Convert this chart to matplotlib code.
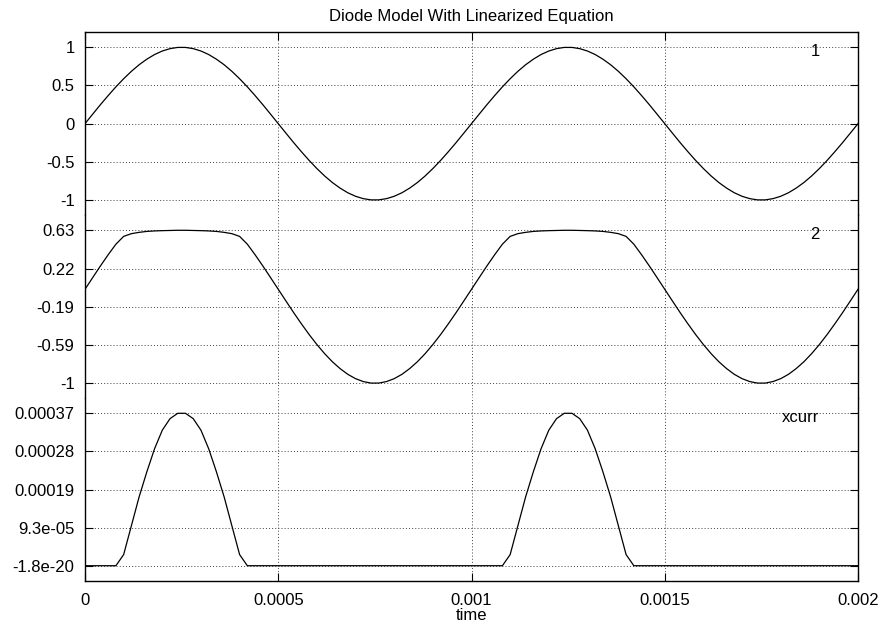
import numpy as np
import matplotlib
matplotlib.use('Agg')
import matplotlib.pyplot as plt

plt.rcParams['font.family'] = ['Liberation Sans', 'DejaVu Sans']

# sample times of the transient run (0 .. 2 ms, 20 us step)
time = np.linspace(0, 0.002, 101)

# node 1 -- source voltage
v1 = [0.000, 0.125, 0.249, 0.368, 0.482, 0.588, 0.685, 0.771, 0.844, 0.905,
      0.951, 0.982, 0.998, 0.998, 0.982, 0.951, 0.905, 0.844, 0.771, 0.685,
      0.588, 0.482, 0.368, 0.249, 0.125, 0.000, -0.125, -0.249, -0.368, -0.482,
      -0.588, -0.685, -0.771, -0.844, -0.905, -0.951, -0.982, -0.998, -0.998, -0.982,
      -0.951, -0.905, -0.844, -0.771, -0.685, -0.588, -0.482, -0.368, -0.249, -0.125,
      0.000, 0.125, 0.249, 0.368, 0.482, 0.588, 0.685, 0.771, 0.844, 0.905,
      0.951, 0.982, 0.998, 0.998, 0.982, 0.951, 0.905, 0.844, 0.771, 0.685,
      0.588, 0.482, 0.368, 0.249, 0.125, 0.000, -0.125, -0.249, -0.368, -0.482,
      -0.588, -0.685, -0.771, -0.844, -0.905, -0.951, -0.982, -0.998, -0.998, -0.982,
      -0.951, -0.905, -0.844, -0.771, -0.685, -0.588, -0.482, -0.368, -0.249, -0.125,
      0.000]

# node 2 -- diode voltage
v2 = [0.000, 0.125, 0.249, 0.368, 0.480, 0.563, 0.592, 0.606, 0.616, 0.621,
      0.624, 0.626, 0.628, 0.628, 0.626, 0.624, 0.621, 0.616, 0.606, 0.592,
      0.563, 0.480, 0.368, 0.249, 0.125, 0.000, -0.125, -0.249, -0.368, -0.482,
      -0.588, -0.685, -0.771, -0.844, -0.905, -0.951, -0.982, -0.998, -0.998, -0.982,
      -0.951, -0.905, -0.844, -0.771, -0.685, -0.588, -0.482, -0.368, -0.249, -0.125,
      0.000, 0.125, 0.249, 0.368, 0.480, 0.563, 0.592, 0.606, 0.616, 0.621,
      0.624, 0.626, 0.628, 0.628, 0.626, 0.624, 0.621, 0.616, 0.606, 0.592,
      0.563, 0.480, 0.368, 0.249, 0.125, 0.000, -0.125, -0.249, -0.368, -0.482,
      -0.588, -0.685, -0.771, -0.844, -0.905, -0.951, -0.982, -0.998, -0.998, -0.982,
      -0.951, -0.905, -0.844, -0.771, -0.685, -0.588, -0.482, -0.368, -0.249, -0.125,
      0.000]

# diode current
xcurr = [0, 0, 0, 0, 0, 2.7e-05, 9.7e-05, 1.67e-04, 2.28e-04, 2.84e-04,
         3.29e-04, 3.57e-04, 3.70e-04, 3.70e-04, 3.57e-04, 3.29e-04, 2.84e-04, 2.28e-04, 1.67e-04, 9.7e-05,
         2.7e-05, 0, 0, 0, 0, 0, 0, 0, 0, 0,
         0, 0, 0, 0, 0, 0, 0, 0, 0, 0,
         0, 0, 0, 0, 0, 0, 0, 0, 0, 0,
         0, 0, 0, 0, 0, 2.7e-05, 9.7e-05, 1.67e-04, 2.28e-04, 2.84e-04,
         3.29e-04, 3.57e-04, 3.70e-04, 3.70e-04, 3.57e-04, 3.29e-04, 2.84e-04, 2.28e-04, 1.67e-04, 9.7e-05,
         2.7e-05, 0, 0, 0, 0, 0, 0, 0, 0, 0,
         0, 0, 0, 0, 0, 0, 0, 0, 0, 0,
         0, 0, 0, 0, 0, 0, 0, 0, 0, 0,
         0]

# tick labels as gnuplot printed them
x_ticks = [0, 0.0005, 0.001, 0.0015, 0.002]
x_labels = ['0', '0.0005', '0.001', '0.0015', '0.002']
y1_ticks = [-1, -0.5, 0, 0.5, 1]
y1_labels = ['-1', '-0.5', '0', '0.5', '1']
y2_ticks = [-1, -0.593, -0.186, 0.221, 0.628]
y2_labels = ['-1', '-0.59', '-0.19', '0.22', '0.63']
y3_ticks = [0, 9.25e-05, 1.85e-04, 2.775e-04, 3.7e-04]
y3_labels = ['-1.8e-20', '9.3e-05', '0.00019', '0.00028', '0.00037']

W, H = 885, 630
fig = plt.figure(figsize=(W / 100, H / 100), dpi=100)


def px_axes(top, bottom):
    # axes box from pixel rows
    return fig.add_axes([85 / W, (H - bottom) / H, 773 / W, (bottom - top) / H])


ax1 = px_axes(32.3, 215.15)
ax2 = px_axes(215.15, 398.3)
ax3 = px_axes(398.3, 581)

panels = [
    (ax1, v1, '1', y1_ticks, y1_labels, (-1.198, 1.196)),
    (ax2, v2, '2', y2_ticks, y2_labels, (-1.160, 0.789)),
    (ax3, xcurr, 'xcurr', y3_ticks, y3_labels, (-3.71e-05, 4.064e-04)),
]

grid_style = dict(color='#404040', linestyle=(0, (1, 2.2)), linewidth=0.7)

for ax, vals, name, yt, yl, ylim in panels:
    ax.plot(time, vals, color='black', linewidth=0.9)
    ax.set_xlim(0, 0.002)
    ax.set_ylim(*ylim)
    ax.set_yticks(yt)
    ax.set_yticklabels(yl)
    ax.set_xticks(x_ticks)
    ax.grid(True, **grid_style)
    ax.tick_params(axis='y', direction='in', length=6, width=0.8, left=True, right=True,
                   labelsize=12, pad=7.5)
    ax.tick_params(axis='x', direction='in', length=6, width=0.8, top=False, bottom=False,
                   labelbottom=False, labelsize=12, pad=8.4)
    for s in ax.spines.values():
        s.set_linewidth(1.0)
    ax.annotate(name, xy=(1, yt[-1]), xycoords=('axes fraction', 'data'),
                xytext=(-27.7, -6.3), textcoords='offset points',
                ha='right', va='baseline', fontsize=12)

# stitch the three panels into one frame
ax1.spines['bottom'].set_visible(False)
ax2.spines['top'].set_visible(False)
ax2.spines['bottom'].set_visible(False)
ax3.spines['top'].set_visible(False)
ax1.tick_params(axis='x', top=True)
ax3.tick_params(axis='x', bottom=True, labelbottom=True)
ax3.set_xticklabels(x_labels)
ax3.set_xlabel('time', fontsize=12, labelpad=0.4)
ax1.set_title('Diode Model With Linearized Equation', fontsize=12, pad=8.4)

plt.savefig('out.png', dpi=100)
